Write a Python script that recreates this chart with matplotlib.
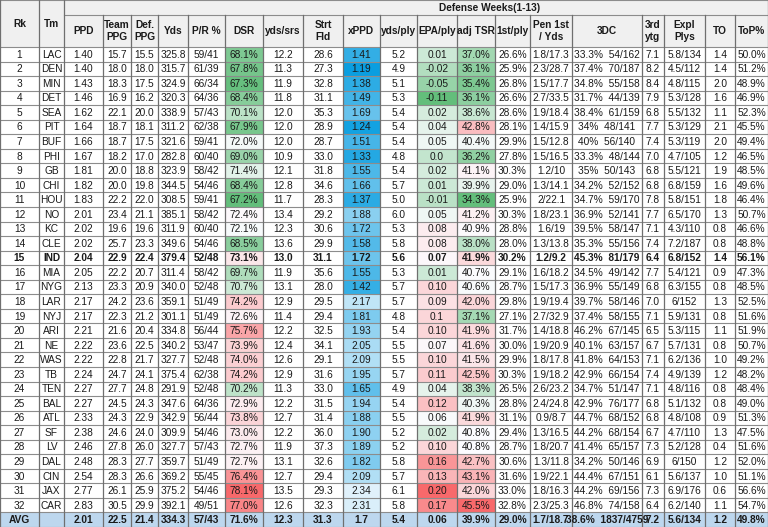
import numpy as np
import matplotlib.pyplot as plt
from matplotlib.patches import Rectangle

# ---- data ----
teams = ['LAC', 'DEN', 'MIN', 'DET', 'SEA', 'PIT', 'BUF', 'PHI', 'GB', 'CHI', 'HOU', 'NO', 'KC', 'CLE', 'IND', 'MIA',
         'NYG', 'LAR', 'NYJ', 'ARI', 'NE', 'WAS', 'TB', 'TEN', 'BAL', 'ATL', 'SF', 'LV', 'DAL', 'CIN', 'JAX', 'CAR']
ppd = ['1.40', '1.40', '1.43', '1.46', '1.62', '1.64', '1.66', '1.67', '1.81', '1.82', '1.83', '2.01', '2.02', '2.02',
       '2.04', '2.05', '2.13', '2.17', '2.17', '2.21', '2.22', '2.22', '2.24', '2.27', '2.27', '2.33', '2.38', '2.46',
       '2.48', '2.54', '2.77', '2.83']
team_ppg = ['15.7', '18.0', '18.3', '16.9', '22.1', '18.7', '18.7', '18.2', '20.0', '20.0', '22.2', '23.4', '19.6',
            '25.7', '22.9', '22.2', '23.3', '24.2', '22.3', '21.6', '23.6', '22.8', '24.7', '27.7', '24.5', '24.3',
            '24.6', '27.8', '28.3', '28.3', '26.1', '30.5']
def_ppg = ['15.5', '18.0', '17.5', '16.2', '20.0', '18.1', '17.5', '17.0', '18.8', '19.8', '22.0', '21.1', '19.6',
           '23.3', '22.4', '20.7', '20.9', '23.6', '21.2', '20.4', '22.5', '21.7', '24.1', '24.8', '24.3', '22.9',
           '24.0', '26.0', '27.7', '26.6', '25.9', '29.9']
yds = ['325.8', '315.7', '324.9', '320.3', '338.9', '311.2', '321.6', '282.8', '323.9', '344.5', '308.5', '385.1',
       '311.9', '349.6', '379.4', '311.4', '340.0', '359.1', '301.1', '334.8', '340.2', '327.7', '375.4', '291.9',
       '347.6', '342.9', '309.9', '327.7', '359.7', '369.2', '375.2', '392.1']
pass_run = ['59/41', '61/39', '66/34', '64/36', '57/43', '62/38', '59/41', '60/40', '58/42', '54/46', '59/41',
            '58/42', '60/40', '54/46', '52/48', '58/42', '52/48', '51/49', '51/49', '56/44', '53/47', '52/48',
            '62/38', '52/48', '64/36', '56/44', '54/46', '57/43', '51/49', '55/45', '54/46', '49/51']
dsr = [68.1, 67.8, 67.3, 68.4, 70.1, 67.9, 72.0, 69.0, 71.4, 68.4, 67.2, 72.4, 72.1, 68.5, 73.1, 69.7, 70.7, 74.2,
       72.6, 75.7, 73.9, 74.0, 74.2, 70.2, 72.9, 73.8, 73.0, 72.7, 72.7, 76.4, 78.1, 77.0]
yds_srs = ['12.2', '11.3', '11.9', '11.8', '12.0', '12.0', '12.0', '10.9', '12.1', '12.8', '11.7', '13.4', '12.3',
           '13.6', '13.0', '11.9', '13.1', '12.9', '11.4', '12.2', '12.4', '12.6', '12.9', '11.3', '12.2', '12.7',
           '12.2', '11.9', '13.1', '12.7', '13.5', '12.6']
strt_fld = ['28.6', '27.3', '32.8', '31.1', '35.3', '28.9', '28.7', '33.0', '31.8', '34.6', '28.3', '29.2', '30.6',
            '29.9', '31.1', '35.6', '28.0', '29.5', '29.4', '32.5', '34.1', '29.1', '31.6', '33.0', '31.5', '31.4',
            '36.0', '37.3', '32.6', '29.4', '29.3', '32.3']
xppd = [1.41, 1.19, 1.38, 1.49, 1.69, 1.24, 1.51, 1.33, 1.55, 1.66, 1.37, 1.88, 1.72, 1.58, 1.72, 1.55, 1.42, 2.17,
        1.81, 1.93, 2.05, 2.09, 1.95, 1.65, 1.94, 1.88, 1.90, 1.89, 1.82, 2.09, 2.34, 2.31]
yds_ply = ['5.2', '4.9', '5.1', '5.3', '5.4', '5.4', '5.4', '4.8', '5.4', '5.7', '5.0', '6.0', '5.3', '5.8', '5.6',
           '5.3', '5.7', '5.7', '4.8', '5.4', '5.5', '5.5', '5.7', '4.9', '5.4', '5.5', '5.2', '5.2', '5.8', '5.7',
           '6.1', '5.8']
epa = ['0.01', '-0.02', '-0.05', '-0.11', '0.02', '0.04', '0.05', '0.0', '0.02', '0.01', '-0.01', '0.05', '0.08',
       '0.08', '0.07', '0.01', '0.10', '0.09', '0.1', '0.10', '0.07', '0.10', '0.11', '0.04', '0.12', '0.06', '0.02',
       '0.10', '0.16', '0.13', '0.20', '0.17']
adj_tsr = [37.0, 36.1, 35.4, 36.1, 38.6, 42.8, 40.4, 36.2, 41.1, 39.9, 34.3, 41.2, 40.9, 38.0, 41.9, 40.7, 40.6, 42.0,
           37.1, 41.9, 41.6, 41.5, 42.5, 38.3, 40.3, 41.9, 40.8, 40.8, 42.7, 43.1, 42.0, 45.5]
first_ply = ['26.6%', '25.9%', '26.8%', '26.6%', '28.6%', '28.1%', '29.9%', '27.8%', '30.3%', '29.0%', '25.9%',
             '30.3%', '28.8%', '28.0%', '30.2%', '29.1%', '28.7%', '29.8%', '27.1%', '31.7%', '30.0%', '29.9%',
             '30.3%', '26.5%', '28.8%', '31.1%', '29.4%', '28.7%', '30.6%', '31.6%', '33.0%', '32.8%']
pen = ['1.8/17.3', '2.3/28.7', '1.5/17.7', '2.7/33.5', '1.9/18.4', '1.4/15.9', '1.5/12.8', '1.5/16.5', '1.2/10',
       '1.3/14.1', '2/22.1', '1.8/23.1', '1.6/19', '1.3/13.8', '1.2/9.2', '1.6/18.2', '1.5/17.3', '1.9/19.4',
       '2.7/32.9', '1.4/18.8', '1.9/20.9', '1.8/17.8', '1.9/18.2', '2.6/23.2', '2.4/24.8', '0.9/8.7', '1.3/16.5',
       '1.8/20.7', '1.3/11.8', '1.9/22.1', '1.8/16.3', '2.3/25.3']
third_dc = ['33.3%  54/162', '37.4%  70/187', '34.8%  55/158', '31.7%  44/139', '38.4%  61/159', '34%  48/141',
            '40%  56/140', '33.3%  48/144', '35%  50/143', '34.2%  52/152', '34.7%  59/170', '36.9%  52/141',
            '39.5%  58/147', '35.3%  55/156', '45.3%  81/179', '34.5%  49/142', '36.9%  55/149', '39.7%  58/146',
            '37.4%  58/155', '46.2%  67/145', '40.1%  63/157', '41.8%  64/153', '42.9%  66/154', '34.7%  51/147',
            '42.9%  76/177', '44.7%  68/152', '44.2%  68/154', '41.4%  65/157', '34.2%  50/146', '44.4%  67/151',
            '44.2%  69/156', '46.8%  74/158']
third_ytg = ['7.1', '8.2', '8.4', '7.9', '6.8', '7.7', '7.4', '7.0', '6.8', '6.8', '7.8', '7.7', '7.1', '7.4', '6.4',
             '7.7', '6.8', '7.0', '7.1', '6.5', '6.7', '7.1', '7.4', '7.1', '6.8', '6.8', '6.7', '7.3', '6.9', '6.1',
             '7.3', '6.4']
expl = ['5.8/134', '4.5/112', '4.8/115', '5.3/128', '5.5/132', '5.3/129', '5.3/119', '4.7/105', '5.5/121', '6.8/159',
        '5.8/151', '6.5/170', '4.3/110', '7.2/187', '6.8/152', '5.4/121', '6.3/155', '6/152', '5.9/131', '5.3/115',
        '5.7/131', '6.2/136', '4.9/139', '4.8/116', '5.1/132', '4.8/108', '4.7/110', '5.2/128', '6/150', '5.6/137',
        '6.9/176', '6.2/140']
turnovers = ['1.4', '1.4', '2.0', '1.6', '1.1', '2.1', '2.0', '1.2', '1.9', '1.6', '1.8', '1.3', '0.8', '0.8', '1.4',
             '0.9', '0.8', '1.3', '0.8', '1.1', '0.8', '1.0', '1.2', '0.8', '0.8', '0.9', '1.3', '0.4', '1.2', '1.0',
             '0.6', '1.1']
top_pct = ['50.0%', '51.2%', '48.9%', '46.9%', '52.3%', '45.5%', '49.4%', '46.5%', '48.5%', '49.6%', '46.4%',
           '50.7%', '46.6%', '48.8%', '56.1%', '47.3%', '48.5%', '52.5%', '51.6%', '51.9%', '50.7%', '49.2%',
           '48.2%', '48.4%', '49.0%', '51.3%', '47.5%', '51.6%', '52.0%', '51.1%', '56.6%', '54.7%']
avg_row = ['AVG', '', '2.01', '22.5', '21.4', '334.3', '57/43', '71.6%', '12.3', '31.3', '1.7', '5.4', '0.06',
           '39.9%', '29.0%', '1.7/18.7', '38.6%  1837/4759', '7.2', '5.6/134', '1.2', '49.8%']

headers = ['Rk', 'Tm', 'PPD', 'Team\nPPG', 'Def.\nPPG', 'Yds', 'P/R %', 'DSR', 'yds/srs', 'Strt\nFld', 'xPPD',
           'yds/ply', 'EPA/ply', 'adj TSR', '1st/ply', 'Pen 1st\n/ Yds', '3DC', '3rd\nytg', 'Expl\nPlys', 'TO', 'ToP%']
group_title = 'Defense Weeks(1-13)'
highlight_team = 'IND'

# ---- layout / style ----
edges = [0, 39, 64, 103, 131, 158, 188, 225, 263, 303, 343, 380, 417, 457, 495, 530, 572, 642, 664, 705, 735, 768]
W, H = 768, 527
top_h, head_h = 15, 47
n_rows = len(teams) + 1
row_h = (H - head_h) / n_rows

plt.rcParams['font.family'] = ['Liberation Sans', 'DejaVu Sans']
fs = 7.3

GREEN = np.array([99, 190, 123]) / 255
WHITE = np.array([252, 252, 255]) / 255
RED = np.array([248, 105, 107]) / 255
BLUE_LO = np.array([10, 158, 224]) / 255
BLUE_HI = np.array([224, 241, 251]) / 255
AVG_BG = '#BDD7EE'
HEAD_BG = '#F0F0F0'


def scale3(vals):
    vals = np.asarray(vals, dtype=float)
    lo, mid, hi = vals.min(), np.median(vals), vals.max()
    out = []
    for v in vals:
        if v <= mid:
            t = (v - lo) / (mid - lo)
            out.append(GREEN + t * (WHITE - GREEN))
        else:
            t = (v - mid) / (hi - mid)
            out.append(WHITE + t * (RED - WHITE))
    return out


def scale2(vals):
    vals = np.asarray(vals, dtype=float)
    t = (vals - vals.min()) / (vals.max() - vals.min())
    return [BLUE_LO + x * (BLUE_HI - BLUE_LO) for x in t]


dsr_col = scale3(dsr)
epa_col = scale3([float(e) for e in epa])
tsr_col = scale3(adj_tsr)
xppd_col = scale2(xppd)

fig = plt.figure(figsize=(W / 100, H / 100), dpi=100)
ax = fig.add_axes([0, 0, 1, 1])
ax.set_xlim(0, W)
ax.set_ylim(H, 0)
ax.axis('off')


def cell(c, y0, y1, text, bg='white', bold=False, size=fs):
    x0, x1 = edges[c], edges[c + 1]
    r = Rectangle((x0, y0), x1 - x0, y1 - y0, facecolor=bg, edgecolor='none', zorder=1)
    ax.add_patch(r)
    if text:
        t = ax.text((x0 + x1) / 2, (y0 + y1) / 2 + 0.5, text, ha='center', va='center', fontsize=size,
                    fontweight='bold' if bold else 'normal', color='#1a1a1a', zorder=3, linespacing=1.25)
        t.set_clip_path(r)


# header
ax.add_patch(Rectangle((edges[2], 0), W - edges[2], top_h, facecolor=HEAD_BG, edgecolor='none', zorder=1))
ax.text(490, top_h / 2 + 0.5, group_title, ha='center', va='center', fontsize=fs,
        fontweight='bold', color='#1a1a1a', zorder=3)
for c, h in enumerate(headers):
    y0 = 0 if c < 2 else top_h
    cell(c, y0, head_h, h, bg=HEAD_BG, bold=True)

# body
for i, tm in enumerate(teams):
    y0 = head_h + i * row_h
    y1 = y0 + row_h
    b = tm == highlight_team
    vals = [str(i + 1), tm, ppd[i], team_ppg[i], def_ppg[i], yds[i], pass_run[i], '%.1f%%' % dsr[i], yds_srs[i],
            strt_fld[i], '%.2f' % xppd[i], yds_ply[i], epa[i], '%.1f%%' % adj_tsr[i], first_ply[i], pen[i],
            third_dc[i], third_ytg[i], expl[i], turnovers[i], top_pct[i]]
    bgs = ['white'] * len(vals)
    bgs[7] = dsr_col[i]
    bgs[10] = xppd_col[i]
    bgs[12] = epa_col[i]
    bgs[13] = tsr_col[i]
    for c, v in enumerate(vals):
        cell(c, y0, y1, v, bg=bgs[c], bold=b)

y0 = head_h + len(teams) * row_h
for c, v in enumerate(avg_row):
    cell(c, y0, H, v, bg=AVG_BG, bold=True)

# grid lines
for i in range(n_rows + 1):
    y = head_h + i * row_h
    ax.plot([0, W], [y, y], color='#8c8c8c', lw=0.8, zorder=2)
ax.plot([edges[2], W], [top_h, top_h], color='#8c8c8c', lw=0.8, zorder=2)
ax.plot([0, W], [0.4, 0.4], color='#8c8c8c', lw=0.8, zorder=2)
for c, x in enumerate(edges):
    y_start = top_h if 2 < c < len(edges) - 1 else 0
    ax.plot([x, x], [y_start, H], color='#6f6f6f', lw=0.9, zorder=2)

fig.savefig('out.png', dpi=100)
